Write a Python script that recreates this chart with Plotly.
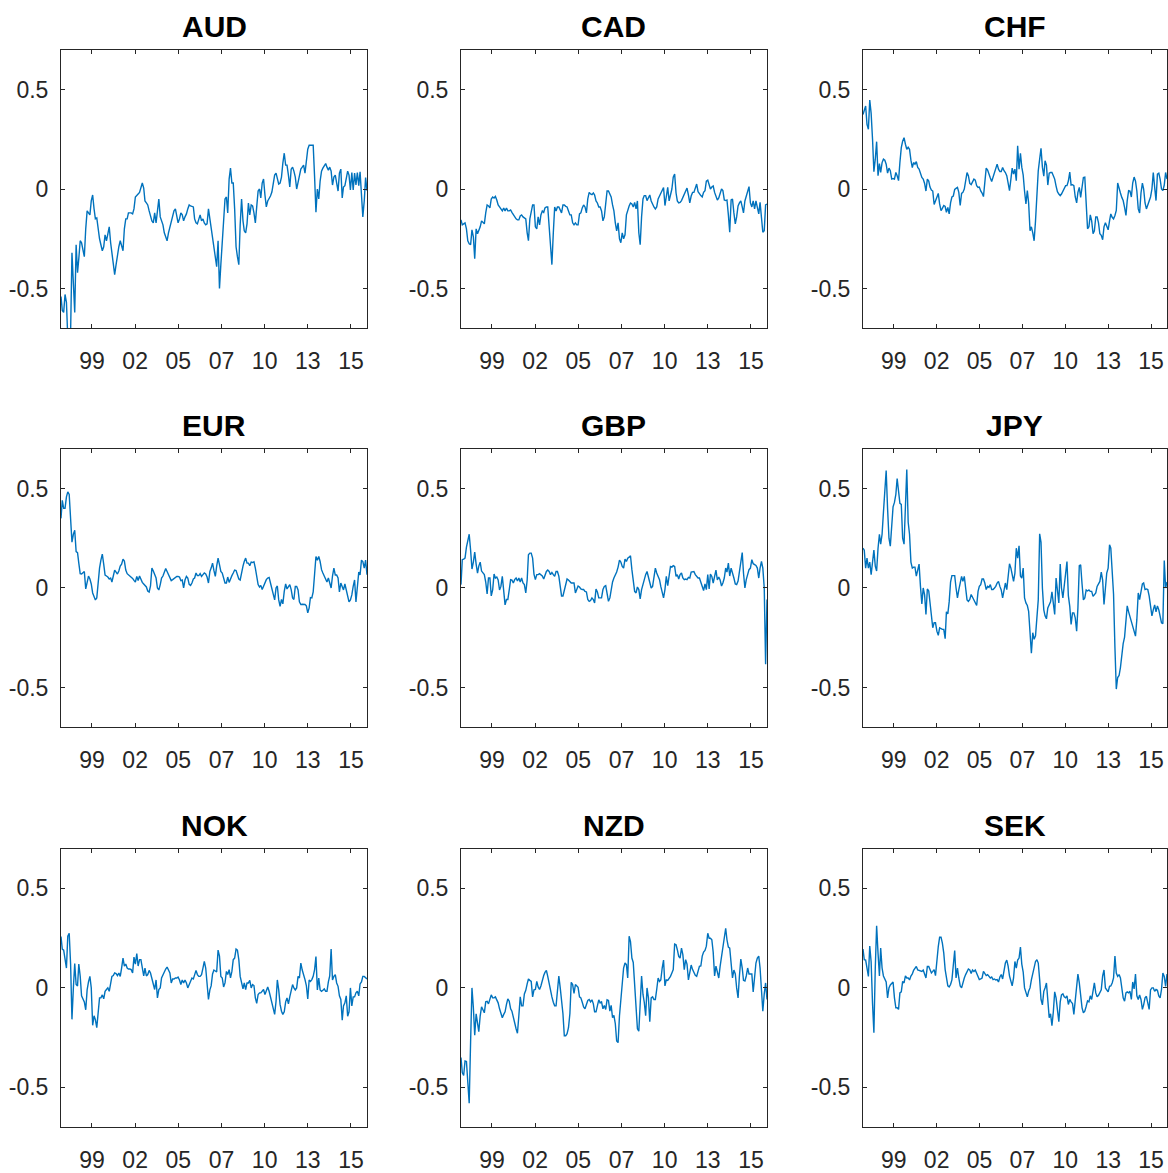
import pandas as pd
import plotly.graph_objects as go

# ---------------- data ----------------
MONTHS = pd.date_range("1998-01-31", periods=223, freq=pd.offsets.MonthEnd())

CURRENCIES = ["AUD", "CAD", "CHF", "EUR", "GBP", "JPY", "NOK", "NZD", "SEK"]

AUD = [
    -0.54, -0.61, -0.62, -0.53, -0.57, -0.75, -0.75, -0.72, -0.32, -0.45, -0.62, -0.28,
    -0.42, -0.35, -0.26, -0.27, -0.30, -0.34, -0.20, -0.11, -0.12, -0.13, -0.06, -0.03,
    -0.10, -0.15, -0.145, -0.20, -0.25, -0.28, -0.31, -0.29, -0.23, -0.26, -0.22, -0.19,
    -0.27, -0.33, -0.39, -0.43, -0.38, -0.33, -0.29, -0.26, -0.28, -0.31, -0.20, -0.15,
    -0.15, -0.12, -0.12, -0.12, -0.125, -0.10, -0.04, -0.03, -0.025, -0.017, 0.01, 0.03,
    0.005, -0.06, -0.07, -0.08, -0.11, -0.14, -0.16, -0.17, -0.12, -0.17, -0.10, -0.05,
    -0.14, -0.16, -0.18, -0.22, -0.24, -0.26, -0.22, -0.19, -0.16, -0.13, -0.11, -0.10,
    -0.15, -0.17, -0.15, -0.12, -0.13, -0.16, -0.14, -0.125, -0.10, -0.08, -0.085, -0.087,
    -0.09, -0.15, -0.17, -0.175, -0.15, -0.13, -0.16, -0.15, -0.17, -0.18, -0.175, -0.10,
    -0.15, -0.20, -0.24, -0.29, -0.35, -0.39, -0.26, -0.50, -0.38, -0.28, -0.17, -0.05,
    -0.04, -0.12, 0.05, 0.105, 0.03, 0.03, -0.10, -0.29, -0.34, -0.38, -0.18, -0.05,
    -0.16, -0.21, -0.22, -0.175, -0.07, -0.13, -0.08, -0.085, -0.12, -0.17, -0.09, -0.01,
    0.0, -0.045, 0.03, 0.05, -0.03, -0.09, -0.06, -0.05, -0.035, -0.015, 0.02, 0.07,
    0.08, 0.05, 0.025, 0.03, 0.06, 0.13, 0.18, 0.12, 0.12, 0.07, 0.01, 0.10,
    0.11, 0.09, 0.06, 0.0, 0.03, 0.07, 0.10, 0.11, 0.12, 0.08, 0.14, 0.20,
    0.22, 0.22, 0.22, 0.22, 0.06, -0.117, 0.0, -0.05, 0.04, 0.09, 0.105, 0.115,
    0.128, 0.11, 0.095, 0.11, 0.09, 0.02, 0.06, 0.07, 0.02, -0.01, 0.08, 0.10,
    -0.045, 0.01, 0.017, 0.05, 0.09, 0.07, -0.005, 0.083, -0.005, 0.08, 0.02, 0.083,
    0.017, 0.087, -0.04, -0.14, -0.06, 0.058, -0.008,
]

CAD = [
    -0.155, -0.18, -0.175, -0.17, -0.20, -0.26, -0.275, -0.28, -0.205, -0.24, -0.35, -0.20,
    -0.225, -0.21, -0.19, -0.16, -0.17, -0.175, -0.12, -0.08, -0.085, -0.095, -0.05, -0.04,
    -0.045, -0.037, -0.055, -0.08, -0.09, -0.10, -0.11, -0.095, -0.11, -0.095, -0.11, -0.11,
    -0.105, -0.117, -0.13, -0.14, -0.15, -0.155, -0.155, -0.135, -0.13, -0.14, -0.145, -0.15,
    -0.22, -0.26, -0.15, -0.12, -0.08, -0.08, -0.19, -0.20, -0.14, -0.18, -0.13, -0.11,
    -0.117, -0.095, -0.09, -0.09, -0.18, -0.25, -0.38, -0.22, -0.09, -0.11, -0.09, -0.09,
    -0.11, -0.12, -0.08, -0.08, -0.087, -0.09, -0.11, -0.13, -0.13, -0.17, -0.18, -0.17,
    -0.18, -0.18, -0.125, -0.12, -0.095, -0.08, -0.09, -0.12, -0.05, -0.017, -0.025, -0.028,
    -0.02, -0.03, -0.06, -0.07, -0.09, -0.09, -0.11, -0.16, -0.14, -0.05, -0.01, -0.01,
    -0.025, -0.04, -0.08, -0.11, -0.17, -0.21, -0.17, -0.25, -0.27, -0.22, -0.25, -0.23,
    -0.13, -0.10, -0.085, -0.07, -0.075, -0.09, -0.067, -0.10, -0.06, -0.22, -0.28, -0.14,
    -0.05, -0.033, -0.033, -0.058, -0.045, -0.03, -0.06, -0.08, -0.09, -0.10, -0.09, -0.05,
    -0.035, -0.03, -0.015, 0.008, -0.083, -0.04, 0.008, -0.06, -0.03, 0.0, 0.06, 0.075,
    -0.02, -0.06, -0.07, -0.067, -0.058, -0.04, -0.025, -0.01, 0.005, -0.03, -0.07, -0.035,
    -0.017, -0.017, 0.01, 0.025, -0.013, -0.025, -0.033, -0.04, -0.017, -0.008, 0.04, 0.045,
    0.015, 0.0, 0.01, 0.015, -0.017, -0.033, -0.055, -0.045, -0.025, 0.0, -0.008, -0.055,
    -0.058, -0.055, -0.13, -0.217, -0.055, -0.05, -0.12, -0.175, -0.14, -0.085, -0.07, -0.06,
    -0.09, -0.12, -0.06, -0.04, -0.017, 0.012, -0.07, -0.09, -0.06, -0.10, -0.06, -0.10,
    -0.125, -0.067, -0.14, -0.217, -0.21, -0.08, -0.075,
]

CHF = [
    0.375, 0.395, 0.417, 0.325, 0.30, 0.447, 0.38, 0.25, 0.087, 0.15, 0.238, 0.067,
    0.128, 0.083, 0.133, 0.15, 0.145, 0.125, 0.08, 0.105, 0.092, 0.05, 0.053, 0.05,
    0.083, 0.067, 0.042, 0.133, 0.208, 0.24, 0.258, 0.225, 0.20, 0.21, 0.20, 0.145,
    0.108, 0.133, 0.125, 0.138, 0.108, 0.10, 0.075, 0.058, 0.05, 0.028, -0.01, 0.05,
    0.04, 0.01, -0.005, -0.01, -0.078, -0.06, -0.035, -0.022, -0.075, -0.108, -0.097, -0.083,
    -0.088, -0.117, -0.092, -0.125, -0.07, -0.04, -0.035, -0.002, 0.003, 0.008, -0.017, -0.083,
    -0.022, -0.017, 0.0, 0.05, 0.083, 0.067, 0.028, 0.022, 0.038, 0.05, 0.045, 0.017,
    0.008, 0.01, -0.01, -0.02, -0.038, 0.05, 0.105, 0.095, 0.07, 0.055, 0.038, 0.06,
    0.083, 0.10, 0.125, 0.10, 0.088, 0.088, 0.108, 0.092, 0.083, 0.067, 0.03, -0.008,
    0.05, 0.105, 0.075, 0.10, 0.042, 0.217, 0.10, 0.18, 0.11, 0.07, -0.01, -0.075,
    -0.008, -0.07, -0.21, -0.19, -0.22, -0.26, -0.16, -0.025, 0.092, 0.15, 0.205, 0.11,
    0.065, 0.142, 0.12, 0.02, 0.08, 0.083, 0.083, 0.067, 0.05, 0.015, -0.013, -0.025,
    -0.033, -0.025, -0.013, 0.0, 0.017, 0.017, 0.04, 0.085, 0.02, 0.022, 0.017, -0.04,
    -0.07, -0.017, 0.008, -0.042, 0.025, 0.058, 0.06, -0.07, -0.20, -0.19, -0.13, -0.16,
    -0.225, -0.21, -0.14, -0.14, -0.17, -0.225, -0.233, -0.255, -0.19, -0.17, -0.19, -0.205,
    -0.16, -0.125, -0.142, -0.15, -0.133, -0.108, 0.03, 0.01, -0.02, -0.042, -0.058, -0.092,
    -0.133, -0.058, -0.008, -0.01, -0.04, 0.03, 0.06, 0.04, -0.01, -0.10, -0.12, -0.02,
    0.03, 0.0, -0.07, -0.10, -0.075, -0.06, -0.04, 0.0, 0.083, 0.008, -0.058, 0.075,
    0.08, 0.05, 0.0, -0.008, 0.02, 0.083, 0.05,
]

EUR = [
    0.35, 0.44, 0.40, 0.40, 0.458, 0.483, 0.47, 0.36, 0.23, 0.27, 0.29, 0.183,
    0.178, 0.125, 0.072, 0.07, 0.078, 0.083, -0.005, 0.04, 0.06, 0.045, 0.02, -0.025,
    -0.04, -0.06, -0.05, 0.045, 0.10, 0.14, 0.17, 0.12, 0.065, 0.06, 0.055, 0.045,
    0.05, 0.03, 0.06, 0.09, 0.08, 0.07, 0.085, 0.11, 0.12, 0.145, 0.135, 0.09,
    0.072, 0.067, 0.062, 0.055, 0.048, 0.038, 0.03, 0.058, 0.038, 0.06, 0.04, 0.028,
    0.02, 0.01, 0.005, -0.015, -0.02, 0.01, 0.10, 0.085, 0.065, 0.05, 0.0, -0.01,
    0.017, 0.05, 0.06, 0.078, 0.098, 0.083, 0.067, 0.05, 0.037, 0.042, 0.047, 0.05,
    0.058, 0.058, 0.055, 0.037, 0.04, 0.0, 0.04, 0.058, 0.05, 0.018, 0.013, 0.025,
    0.045, 0.05, 0.075, 0.062, 0.062, 0.072, 0.058, 0.067, 0.075, 0.07, 0.055, 0.025,
    0.083, 0.10, 0.125, 0.088, 0.058, 0.11, 0.15, 0.117, 0.083, 0.075, 0.05, 0.025,
    0.025, 0.055, 0.028, 0.05, 0.062, 0.075, 0.09, 0.088, 0.07, 0.045, 0.04, 0.083,
    0.11, 0.133, 0.15, 0.125, 0.125, 0.112, 0.13, 0.128, 0.132, 0.10, 0.058, 0.017,
    0.005, 0.013, -0.008, 0.008, 0.028, 0.042, 0.05, 0.053, 0.025, -0.008, -0.042, -0.06,
    0.0, 0.01, -0.06, -0.092, -0.058, -0.08, -0.017, 0.02, -0.005, 0.01, 0.017, -0.008,
    -0.05, -0.058, 0.008, 0.008, -0.01, -0.07, -0.083, -0.082, -0.082, -0.083, -0.09, -0.125,
    -0.10, -0.048, -0.05, -0.02, 0.07, 0.158, 0.14, 0.158, 0.133, 0.092, 0.075, 0.058,
    0.05, 0.03, 0.05, 0.02, 0.0, 0.06, 0.10, 0.065, 0.065, 0.05, -0.02, 0.025,
    0.0, -0.01, 0.02, -0.01, -0.045, -0.07, -0.06, -0.035, 0.008, 0.04, -0.07, 0.008,
    0.08, 0.065, 0.14, 0.133, 0.10, 0.14, 0.067,
]

GBP = [
    0.017, 0.142, 0.145, 0.15, 0.205, 0.24, 0.27, 0.19, 0.095, 0.13, 0.18, 0.12,
    0.075, 0.11, 0.13, 0.085, 0.075, 0.067, 0.03, -0.03, 0.05, 0.05, -0.04, -0.01,
    0.07, 0.05, 0.055, 0.04, -0.01, 0.008, 0.058, -0.033, -0.085, -0.058, -0.058, -0.01,
    0.042, 0.04, 0.025, 0.042, 0.05, 0.035, 0.05, 0.03, 0.05, 0.025, 0.017, -0.025,
    0.04, 0.167, 0.175, 0.175, 0.15, 0.07, 0.042, 0.067, 0.067, 0.072, 0.067, 0.06,
    0.045, 0.062, 0.083, 0.09, 0.083, 0.067, 0.078, 0.067, 0.058, 0.083, 0.083, 0.06,
    -0.005, -0.04, -0.04, -0.008, 0.03, 0.045, 0.04, 0.03, 0.025, 0.025, 0.025, -0.025,
    0.0, 0.01, 0.005, -0.005, -0.008, -0.008, -0.017, -0.02, -0.058, -0.067, -0.063, -0.05,
    -0.058, -0.075, -0.005, -0.02, -0.05, -0.05, -0.05, -0.008, 0.008, 0.012, -0.033, -0.067,
    -0.05, -0.008, 0.03, 0.05, 0.065, 0.08, 0.105, 0.14, 0.13, 0.108, 0.10, 0.145,
    0.133, 0.15, 0.155, 0.162, 0.092, 0.025, -0.017, -0.025, 0.005, -0.008, -0.055, -0.008,
    0.017, 0.05, 0.067, 0.083, 0.058, 0.033, 0.0, 0.008, 0.05, 0.10, 0.075, 0.058,
    0.042, 0.008, -0.025, -0.05, -0.008, 0.058, 0.012, 0.067, 0.108, 0.105, 0.112, 0.108,
    0.058, 0.067, 0.045, 0.067, 0.075, 0.05, 0.042, 0.045, 0.042, 0.053, 0.05, 0.08,
    0.083, 0.083, 0.067, 0.058, 0.05, 0.05, 0.025, 0.0, -0.013, 0.02, -0.008, 0.067,
    -0.005, 0.07, 0.058, 0.025, 0.067, 0.09, 0.04, 0.055, 0.04, 0.01, 0.025, 0.05,
    0.10, 0.08, 0.125, 0.06, 0.10, 0.08, 0.05, 0.02, 0.017, 0.035, 0.08, 0.125,
    0.178, 0.075, 0.0, 0.042, 0.075, 0.092, 0.10, 0.142, 0.122, 0.115, 0.113, 0.10,
    0.05, 0.10, 0.133, 0.10, 0.0, -0.383, -0.058,
]

JPY = [
    0.20, 0.19, 0.10, 0.15, 0.10, 0.13, 0.067, 0.14, 0.19, 0.11, 0.085, 0.20,
    0.27, 0.22, 0.27, 0.38, 0.48, 0.59, 0.40, 0.25, 0.21, 0.30, 0.408, 0.43,
    0.47, 0.55, 0.48, 0.425, 0.42, 0.25, 0.22, 0.39, 0.595, 0.33, 0.27, 0.13,
    0.10, 0.105, 0.105, 0.06, 0.09, 0.12, 0.008, -0.08, 0.0, -0.035, -0.133, -0.005,
    -0.015, -0.065, -0.15, -0.20, -0.175, -0.175, -0.217, -0.238, -0.20, -0.205, -0.208, -0.208,
    -0.255, -0.12, -0.13, -0.07, 0.03, 0.062, 0.062, 0.062, 0.0, -0.05, -0.01, 0.03,
    0.058, 0.033, 0.058, 0.0, -0.06, -0.067, -0.058, -0.033, -0.045, -0.058, -0.075, -0.088,
    -0.017, 0.008, 0.017, 0.045, 0.045, 0.025, -0.008, 0.008, 0.003, 0.017, -0.008, -0.008,
    0.0, 0.008, 0.025, 0.033, 0.008, -0.01, -0.05, 0.0, 0.025, -0.008, 0.06, 0.122,
    0.10, 0.075, 0.033, 0.075, 0.20, 0.15, 0.212, 0.06, 0.05, 0.10, -0.05, -0.075,
    -0.088, -0.117, -0.258, -0.328, -0.225, -0.258, -0.24, -0.14, -0.06, 0.272, 0.23, 0.0,
    -0.11, -0.14, -0.155, -0.10, -0.087, -0.07, -0.02, -0.075, -0.133, 0.05, 0.0, -0.075,
    0.12, 0.0, -0.05, 0.02, 0.07, 0.133, -0.04, -0.092, -0.183, -0.125, -0.125, -0.15,
    -0.217, -0.10, 0.112, 0.117, 0.02, -0.06, -0.05, -0.01, -0.015, -0.01, -0.017, -0.017,
    -0.042, -0.035, -0.025, 0.008, 0.02, 0.033, 0.08, 0.04, -0.083, 0.025, 0.075, 0.10,
    0.217, 0.20, 0.08, -0.03, -0.30, -0.508, -0.45, -0.44, -0.40, -0.33, -0.28, -0.247,
    -0.16, -0.09, -0.12, -0.145, -0.17, -0.19, -0.208, -0.242, -0.158, -0.025, -0.058, -0.025,
    0.02, 0.025, -0.008, -0.005, -0.008, -0.04, -0.09, -0.14, -0.11, -0.085, -0.12, -0.09,
    -0.11, -0.14, -0.175, -0.18, 0.138, 0.0, 0.03,
]

NOK = [
    0.258, 0.195, 0.19, 0.15, 0.10, 0.26, 0.275, 0.12, -0.158, 0.0, 0.122, 0.017,
    0.01, 0.12, 0.06, -0.04, -0.058, -0.07, -0.11, -0.01, 0.03, 0.058, 0.0, -0.188,
    -0.14, -0.16, -0.20, -0.14, -0.05, -0.05, -0.035, -0.055, -0.017, -0.008, 0.0, -0.017,
    0.025, 0.058, 0.062, 0.075, 0.072, 0.062, 0.075, 0.058, 0.10, 0.15, 0.11, 0.12,
    0.10, 0.095, 0.095, 0.092, 0.075, 0.155, 0.12, 0.172, 0.11, 0.142, 0.142, 0.10,
    0.06, 0.10, 0.06, 0.067, 0.088, 0.075, 0.042, 0.017, -0.008, 0.04, -0.05, -0.008,
    0.0, 0.05, 0.067, 0.087, 0.095, 0.105, 0.09, 0.075, 0.025, 0.045, 0.045, 0.05,
    0.05, 0.055, 0.04, 0.017, 0.04, 0.025, 0.04, 0.025, 0.0, 0.017, 0.038, 0.05,
    0.045, 0.067, 0.088, 0.067, 0.058, 0.058, 0.067, 0.10, 0.133, 0.10, 0.0, -0.058,
    -0.01, 0.01, 0.07, 0.09, 0.085, 0.08, 0.19, 0.16, 0.058, 0.05, 0.005, 0.025,
    0.083, 0.067, 0.092, 0.05, 0.083, 0.142, 0.15, 0.195, 0.19, 0.142, 0.058, 0.017,
    -0.005, 0.025, -0.008, 0.025, 0.025, 0.038, 0.0, 0.017, 0.012, -0.05, -0.078, -0.033,
    -0.025, -0.025, -0.017, -0.008, -0.033, -0.017, 0.005, -0.017, -0.05, -0.083, -0.108, -0.133,
    -0.067, 0.04, -0.01, -0.083, -0.117, -0.133, -0.12, -0.07, -0.05, -0.08, -0.045, -0.017,
    0.017, 0.0, -0.01, 0.0, 0.058, 0.05, 0.125, 0.09, 0.058, 0.042, 0.012, -0.055,
    0.04, 0.033, 0.042, 0.058, 0.092, 0.158, -0.01, 0.05, -0.01, -0.017, -0.012, -0.005,
    -0.017, -0.017, 0.03, 0.06, 0.195, 0.04, 0.058, 0.067, 0.025, 0.008, -0.04, -0.058,
    -0.162, -0.09, -0.075, -0.04, -0.142, -0.12, 0.0, -0.09, -0.045, -0.045, -0.025, -0.017,
    -0.04, 0.02, 0.03, 0.058, 0.058, 0.05, 0.045,
]

NZD = [
    -0.35, -0.425, -0.44, -0.367, -0.37, -0.49, -0.58, -0.27, 0.0, -0.10, -0.238, -0.13,
    -0.17, -0.22, -0.14, -0.095, -0.11, -0.125, -0.07, -0.068, -0.08, -0.06, -0.035, -0.05,
    -0.05, -0.045, -0.058, -0.075, -0.105, -0.128, -0.15, -0.133, -0.12, -0.083, -0.055, -0.067,
    -0.105, -0.117, -0.14, -0.175, -0.205, -0.228, -0.14, -0.045, -0.09, -0.09, -0.03, -0.012,
    0.02, 0.045, 0.038, 0.033, -0.045, -0.01, -0.008, 0.033, 0.005, -0.008, 0.01, 0.04,
    0.062, 0.078, 0.088, 0.058, 0.017, -0.017, -0.045, -0.072, -0.09, -0.09, -0.01, 0.06,
    0.0, -0.05, -0.13, -0.24, -0.24, -0.23, -0.20, -0.13, 0.028, 0.017, -0.028, 0.017,
    0.01, 0.003, -0.045, -0.05, -0.072, -0.095, -0.105, -0.083, -0.063, -0.058, -0.07, -0.06,
    -0.08, -0.12, -0.12, -0.09, -0.06, -0.075, -0.07, -0.105, -0.088, -0.108, -0.06, -0.063,
    -0.117, -0.088, -0.15, -0.138, -0.18, -0.267, -0.275, -0.14, -0.067, 0.0, 0.10, 0.125,
    0.117, 0.05, 0.26, 0.233, 0.15, 0.128, 0.025, -0.10, -0.205, -0.217, -0.05, 0.06,
    -0.033, -0.072, -0.14, 0.0, -0.05, -0.17, -0.05, -0.045, -0.058, -0.058, -0.008, 0.05,
    0.033, 0.04, 0.10, 0.14, 0.01, 0.04, 0.038, 0.047, 0.058, 0.075, 0.092, 0.22,
    0.217, 0.192, 0.158, 0.15, 0.20, 0.167, 0.092, 0.142, 0.12, 0.04, 0.083, 0.115,
    0.092, 0.075, 0.063, 0.058, 0.08, 0.108, 0.11, 0.16, 0.18, 0.188, 0.21, 0.275,
    0.25, 0.25, 0.242, 0.18, 0.06, 0.11, 0.08, 0.05, 0.108, 0.158, 0.208, 0.258,
    0.30, 0.242, 0.205, 0.20, 0.11, 0.05, 0.09, 0.07, 0.0, -0.05, 0.06, 0.145,
    0.10, 0.038, 0.035, 0.06, 0.10, 0.07, 0.07, 0.07, -0.02, 0.06, 0.125, 0.15,
    0.16, 0.10, -0.01, -0.117, -0.03, 0.025, -0.058,
]

SEK = [
    0.195, 0.142, 0.14, 0.09, 0.058, 0.21, 0.13, -0.08, -0.225, 0.10, 0.312, 0.175,
    0.06, 0.20, 0.10, 0.06, 0.045, 0.03, -0.05, 0.0, 0.015, 0.025, 0.03, -0.05,
    -0.10, -0.10, -0.108, -0.025, -0.02, 0.033, 0.025, 0.06, 0.05, 0.05, 0.04, 0.06,
    0.07, 0.088, 0.10, 0.108, 0.09, 0.088, 0.085, 0.083, 0.09, 0.07, 0.05, 0.108,
    0.108, 0.092, 0.075, 0.083, 0.092, 0.062, 0.15, 0.208, 0.255, 0.255, 0.225, 0.175,
    0.092, 0.05, 0.01, 0.005, 0.017, 0.04, 0.10, 0.188, 0.05, 0.10, 0.05, 0.01,
    0.0, 0.03, 0.05, 0.067, 0.083, 0.095, 0.09, 0.073, 0.09, 0.083, 0.09, 0.07,
    0.05, 0.042, 0.045, 0.05, 0.083, 0.075, 0.062, 0.067, 0.058, 0.05, 0.055, 0.042,
    0.045, 0.04, 0.042, 0.03, 0.055, 0.067, 0.045, 0.092, 0.125, 0.14, 0.11, 0.06,
    0.025, 0.01, 0.05, 0.133, 0.10, 0.14, 0.15, 0.205, 0.12, 0.08, 0.0, -0.025,
    -0.045, -0.017, 0.0, 0.04, 0.067, 0.10, 0.133, 0.142, 0.125, 0.042, -0.058, -0.085,
    -0.017, 0.0, 0.025, -0.06, -0.15, -0.13, -0.19, -0.12, -0.02, -0.05, -0.12, -0.17,
    -0.07, -0.035, -0.03, -0.045, -0.05, -0.04, -0.083, -0.058, -0.07, -0.078, -0.133, -0.058,
    0.025, 0.07, 0.025, -0.058, -0.10, -0.125, -0.117, -0.092, -0.065, -0.07, -0.04, -0.058,
    0.0, 0.025, -0.025, -0.045, -0.037, -0.025, -0.01, 0.06, 0.09, 0.0, -0.013, -0.02,
    0.008, 0.01, 0.025, 0.05, 0.16, 0.075, 0.058, 0.067, 0.05, 0.008, -0.05, -0.067,
    -0.025, -0.02, -0.025, -0.017, -0.058, 0.03, -0.005, 0.07, -0.04, -0.058, -0.035, -0.058,
    -0.108, -0.085, -0.05, -0.042, -0.075, -0.108, -0.01, 0.0, 0.0, -0.017, -0.008, -0.012,
    -0.04, -0.05, -0.008, 0.075, 0.058, 0.008, 0.07,
]

SERIES = {"AUD": AUD, "CAD": CAD, "CHF": CHF, "EUR": EUR, "GBP": GBP,
          "JPY": JPY, "NOK": NOK, "NZD": NZD, "SEK": SEK}

TICK_LABELS = ["99", "02", "05", "07", "10", "13", "15"]
TICK_DATES = [pd.Timestamp("1999-12-16") + pd.Timedelta(days=953 * k) for k in range(len(TICK_LABELS))]
Y_TICKS = [-0.5, 0, 0.5]
Y_TICK_LABELS = ["-0.5", "0", "0.5"]
Y_RANGE = [-0.7, 0.7]

# ---------------- layout geometry (pixels) ----------------
W, H = 1168, 1173
COL_PX = [(61, 367), (461, 767), (863, 1167)]
ROW_PX = [(50, 330), (451, 731), (853, 1133)]

LINE_COLOR = "#0072BD"
AXIS_COLOR = "#262626"
FONT = "Liberation Sans, Arial, Helvetica, sans-serif"

fig = go.Figure()
layout = dict(
    width=W, height=H,
    margin=dict(l=0, r=0, t=0, b=0),
    paper_bgcolor="white", plot_bgcolor="white",
    showlegend=False,
    font=dict(family=FONT, size=23, color=AXIS_COLOR),
    annotations=[],
)

x_range = [MONTHS[0].strftime("%Y-%m-%d"), MONTHS[-1].strftime("%Y-%m-%d")]
x_ticks = [d.strftime("%Y-%m-%d %H:%M") for d in TICK_DATES]
x_vals = [d.strftime("%Y-%m-%d") for d in MONTHS]

for idx, cur in enumerate(CURRENCIES):
    r, c = divmod(idx, 3)
    n = idx + 1
    xa = "x" if n == 1 else f"x{n}"
    ya = "y" if n == 1 else f"y{n}"
    xd = [COL_PX[c][0] / W, COL_PX[c][1] / W]
    yd = [1 - ROW_PX[r][1] / H, 1 - ROW_PX[r][0] / H]

    fig.add_trace(go.Scatter(
        x=x_vals, y=SERIES[cur], mode="lines",
        line=dict(color=LINE_COLOR, width=1.4),
        xaxis=xa, yaxis=ya, hoverinfo="skip",
    ))

    axis_common = dict(
        showline=True, linecolor=AXIS_COLOR, linewidth=1, mirror="ticks",
        ticks="inside", ticklen=4, tickwidth=1, tickcolor=AXIS_COLOR,
        showgrid=False, zeroline=False,
        tickfont=dict(family=FONT, size=23, color=AXIS_COLOR),
    )
    layout["xaxis" if n == 1 else f"xaxis{n}"] = dict(
        domain=xd, anchor=ya, type="date", range=x_range,
        tickmode="array", tickvals=x_ticks, ticktext=TICK_LABELS,
        ticklabelstandoff=12,
        **axis_common,
    )
    layout["yaxis" if n == 1 else f"yaxis{n}"] = dict(
        domain=yd, anchor=xa, range=Y_RANGE,
        tickmode="array", tickvals=Y_TICKS, ticktext=Y_TICK_LABELS,
        ticklabelstandoff=7,
        **axis_common,
    )
    layout["annotations"].append(dict(
        text=f"<b>{cur}</b>", xref="paper", yref="paper",
        x=(xd[0] + xd[1]) / 2, y=yd[1], xanchor="center", yanchor="bottom",
        yshift=5, showarrow=False,
        font=dict(family=FONT, size=30, color="black"),
    ))

fig.update_layout(**layout)

PAGE_CSS_JS = (
    "var s=document.createElement('style');"
    "s.textContent='html,body{margin:0;padding:0;overflow:hidden;}';"
    "document.head.appendChild(s);"
)
fig.write_html(
    "out.html",
    config={"displayModeBar": False, "staticPlot": True},
    post_script=PAGE_CSS_JS,
)
